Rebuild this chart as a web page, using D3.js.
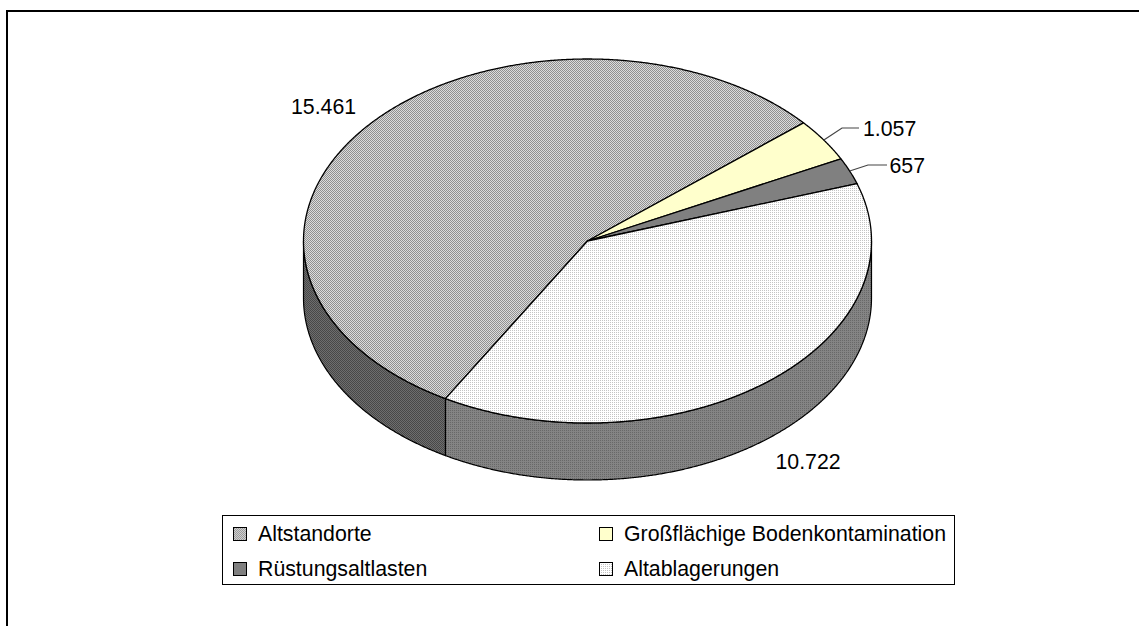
<!DOCTYPE html>
<html><head><meta charset="utf-8">
<script src="https://cdn.jsdelivr.net/npm/d3@7"></script>
<style>html,body{margin:0;padding:0;background:#fff}svg{display:block}text{font-family:"Liberation Sans",Arial,sans-serif;font-size:21.3px;fill:#000}</style>
</head><body><svg id="c" width="1139" height="626" shape-rendering="geometricPrecision"></svg>
<script>
const categories = ["Altstandorte","Großflächige Bodenkontamination","Rüstungsaltlasten","Altablagerungen"];
const values = [15461,1057,657,10722];
const valueLabels = ["15.461","1.057","657","10.722"];

const svg = d3.select("#c");
const cx=587.5, cy=241, rx=284, ry=182, depth=57;
const x=d3.scaleLinear().domain([-1,1]).range([cx-rx,cx+rx]);
const y=d3.scaleLinear().domain([-1,1]).range([cy-ry,cy+ry]);
const rad=Math.PI/180;
const pt=(a,dy=0)=>[x(Math.sin(a)),y(-Math.cos(a))+dy];

// 2x2 / 4x4 dither patterns
const defs=svg.append("defs");
function pat(id,size,bg,dots,col){
  const p=defs.append("pattern").attr("id",id).attr("width",size).attr("height",size).attr("patternUnits","userSpaceOnUse");
  p.append("rect").attr("width",size).attr("height",size).attr("fill",bg).attr("shape-rendering","crispEdges");
  dots.forEach(d=>p.append("rect").attr("x",d[0]).attr("y",d[1]).attr("width",1).attr("height",1).attr("fill",col).attr("shape-rendering","crispEdges"));
}
pat("pAlt",2,"#dcdcdc",[[0,0],[1,1]],"#909090");
pat("pAltSide",2,"#6e6e6e",[[0,0],[1,1]],"#484848");
pat("pAbl",2,"#ffffff",[[0,0]],"#c4c4c4");
pat("pAblSide",2,"#848484",[[0,0]],"#686868");
pat("pLegAlt",2,"#d0d0d0",[[0,0],[1,1]],"#9c9c9c");

const topFill=["url(#pAlt)","#FFFFCC","#808080","url(#pAbl)"];
const sideFill=["url(#pAltSide)","#666666","#666666","url(#pAblSide)"];
const legFill=["url(#pLegAlt)","#FFFFCC","#808080","url(#pAbl)"];

const pie=d3.pie().sort(null).value(d=>d).startAngle(210*rad).endAngle(570*rad);
const arcs=pie(values);
const line=d3.line();
const sample=(a0,a1)=>{const n=Math.max(2,Math.ceil(Math.abs(a1-a0)/(0.25*rad)));return d3.range(n+1).map(i=>a0+(a1-a0)*i/n);};

// Outer frame (left + top only)
svg.append("path").attr("d",line([[7,626],[7,11],[1139,11]])).attr("fill","none").attr("stroke","#000").attr("stroke-width",2);

// Side wall — the visible front half (90°..270°)
const wall=[];
arcs.forEach((d,i)=>{
  for(const k of [0,1,2]){
    const a0=Math.max(d.startAngle,90*rad+k*360*rad), a1=Math.min(d.endAngle,270*rad+k*360*rad);
    if(a1>a0) wall.push({a0,a1,i});
  }
});
svg.append("g").selectAll("path").data(wall).join("path")
  .attr("d",w=>{
    const t=sample(w.a0,w.a1);
    return line(t.map(a=>pt(a)).concat(t.slice().reverse().map(a=>pt(a,depth))))+"Z";
  })
  .attr("fill",w=>sideFill[w.i]).attr("stroke","#000").attr("stroke-width",1.2).attr("stroke-linejoin","round");

// Top slices
svg.append("g").selectAll("path").data(arcs).join("path")
  .attr("d",d=>line([[cx,cy]].concat(sample(d.startAngle,d.endAngle).map(a=>pt(a))))+"Z")
  .attr("fill",(d,i)=>topFill[i]).attr("stroke","#000").attr("stroke-width",1.3).attr("stroke-linejoin","round");

// Leader lines
const leaders=[null,{elbow:[842,128],end:[859,128]},{elbow:[868,165],end:[887,165]},null];
svg.append("g").selectAll("path").data(arcs.map((d,i)=>({d,l:leaders[i]})).filter(o=>o.l)).join("path")
  .attr("d",o=>line([pt((o.d.startAngle+o.d.endAngle)/2),o.l.elbow,o.l.end]))
  .attr("fill","none").attr("stroke","#444").attr("stroke-width",1.2);

// Data labels
const labelPos=[[291,113.5],[863,135.5],[889.5,172.5],[775.5,469]];
svg.append("g").selectAll("text").data(valueLabels).join("text")
  .attr("x",(d,i)=>labelPos[i][0]).attr("y",(d,i)=>labelPos[i][1]).text(d=>d);

// Legend
svg.append("rect").attr("x",222.5).attr("y",515.5).attr("width",732).attr("height",69)
  .attr("fill","#fff").attr("stroke","#000").attr("stroke-width",1);
const legCols=[233,599], legRows=[527,562];
const leg=svg.append("g").selectAll("g").data(categories).join("g")
  .attr("transform",(d,i)=>`translate(${legCols[i%2]},${legRows[i>>1]})`);
leg.append("rect").attr("x",.5).attr("y",.5).attr("width",13).attr("height",13)
  .attr("fill",(d,i)=>legFill[i]).attr("stroke","#000").attr("stroke-width",1);
leg.append("text").attr("x",25).attr("y",14).text(d=>d);
</script></body></html>
